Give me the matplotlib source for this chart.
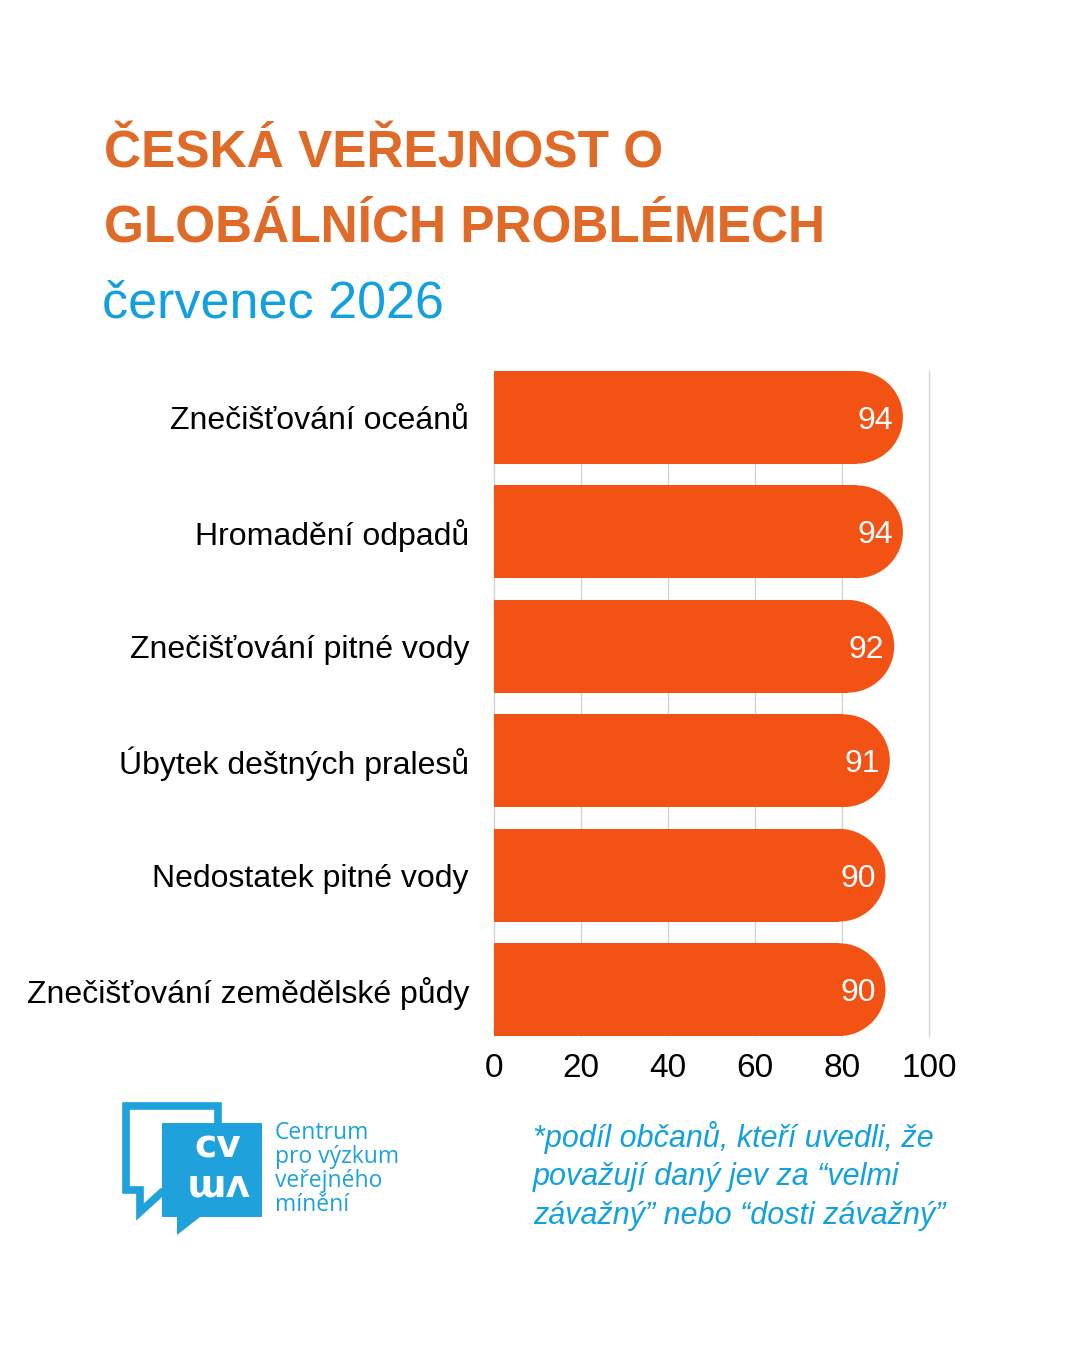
import matplotlib
matplotlib.use("Agg")
import matplotlib.pyplot as plt
from matplotlib.patches import Ellipse, Polygon

plt.rcParams['font.family'] = ['Liberation Sans', 'DejaVu Sans']

# data
categories = ["Znečišťování oceánů", "Hromadění odpadů", "Znečišťování pitné vody",
              "Úbytek deštných pralesů", "Nedostatek pitné vody",
              "Znečišťování zemědělské půdy"]
values = [94, 94, 92, 91, 90, 90]
xticks = [0, 20, 40, 60, 80, 100]

BAR = '#F35215'
ORANGE = '#E06A28'
BLUE = '#12A0E0'
LOGO = '#1FA2DC'

W, H = 1080, 1350
fig = plt.figure(figsize=(W / 100, H / 100), dpi=100)

# ---- bar chart ----
bar_h = 0.81
ax_l, ax_r, ax_t, ax_b = 494, 929, 371, 1036
ax = fig.add_axes([ax_l / W, 1 - ax_b / H, (ax_r - ax_l) / W, (ax_b - ax_t) / H])
ax.set_xlim(0, 100)
ax.set_ylim(len(values) - 1 + bar_h / 2, -bar_h / 2)

px_x = (ax_r - ax_l) / 100.0
px_y = (ax_b - ax_t) / (len(values) - 1 + bar_h)
rx = (bar_h * px_y / 2) / px_x   # cap radius in x-units

ys = list(range(len(values)))
ax.barh(ys, [v - rx for v in values], height=bar_h, color=BAR, zorder=3, linewidth=0)
for y, v in zip(ys, values):
    ax.add_patch(Ellipse((v - rx, y), 2 * rx, bar_h, facecolor=BAR, edgecolor='none', zorder=3))
    ax.annotate(str(v), (v, y), xytext=(-7, 0), textcoords='offset points',
                ha='right', va='center_baseline', color='white', fontsize=23, zorder=4)

ax.set_xticks(xticks)
ax.set_xticklabels([str(t) for t in xticks], fontsize=24)
ax.set_yticks(ys)
ax.set_yticklabels(categories, fontsize=23)
ax.tick_params(axis='both', length=0)
ax.tick_params(axis='y', pad=18)
ax.tick_params(axis='x', pad=12)
ax.grid(axis='x', color='#d4d4d4', linewidth=1, zorder=0, clip_on=False)
ax.set_axisbelow(True)
for s in ax.spines.values():
    s.set_visible(False)

# ---- overlay for titles / logo ----
ov = fig.add_axes([0, 0, 1, 1], zorder=-1)
ov.set_xlim(0, W)
ov.set_ylim(H, 0)
ov.axis('off')

ov.text(104, 167, "ČESKÁ VEŘEJNOST O", color=ORANGE, fontsize=37, fontweight='bold',
        va='baseline', ha='left')
ov.text(104, 242, "GLOBÁLNÍCH PROBLÉMECH", color=ORANGE, fontsize=37, fontweight='bold',
        va='baseline', ha='left')
ov.text(102, 318, "červenec 2026", color=BLUE, fontsize=37.5, va='baseline', ha='left')

for i, line in enumerate(["*podíl občanů, kteří uvedli, že",
                          "považují daný jev za “velmi",
                          "závažný” nebo “dosti závažný”"]):
    ov.text(533, 1147 + 38.5 * i, line, color=BLUE, fontsize=22,
            style='italic', va='baseline', ha='left')

# logo: two speech bubbles
back = Polygon([(126, 1106), (218, 1106), (218, 1190), (162, 1192), (140, 1212),
                (140, 1190), (126, 1190)], closed=True, facecolor='white',
               edgecolor=LOGO, linewidth=5.5, joinstyle='miter')
ov.add_patch(back)
front = Polygon([(162, 1123), (262, 1123), (262, 1217), (200, 1217), (177, 1235),
                 (177, 1217), (162, 1217)], closed=True, facecolor=LOGO, edgecolor='none')
ov.add_patch(front)
ov.text(218, 1148, "cv", color='white', fontsize=27, fontweight='bold',
        family='DejaVu Sans', ha='center', va='center')
ov.text(218, 1184, "vm", color='white', fontsize=27, fontweight='bold',
        family='DejaVu Sans', ha='center', va='center', rotation=180)
for i, line in enumerate(["Centrum", "pro výzkum", "veřejného", "mínění"]):
    ov.text(275, 1139 + 24 * i, line, color=LOGO, fontsize=16.5, family='Open Sans',
            ha='left', va='baseline')

fig.savefig("out.png", dpi=100, facecolor='white')
